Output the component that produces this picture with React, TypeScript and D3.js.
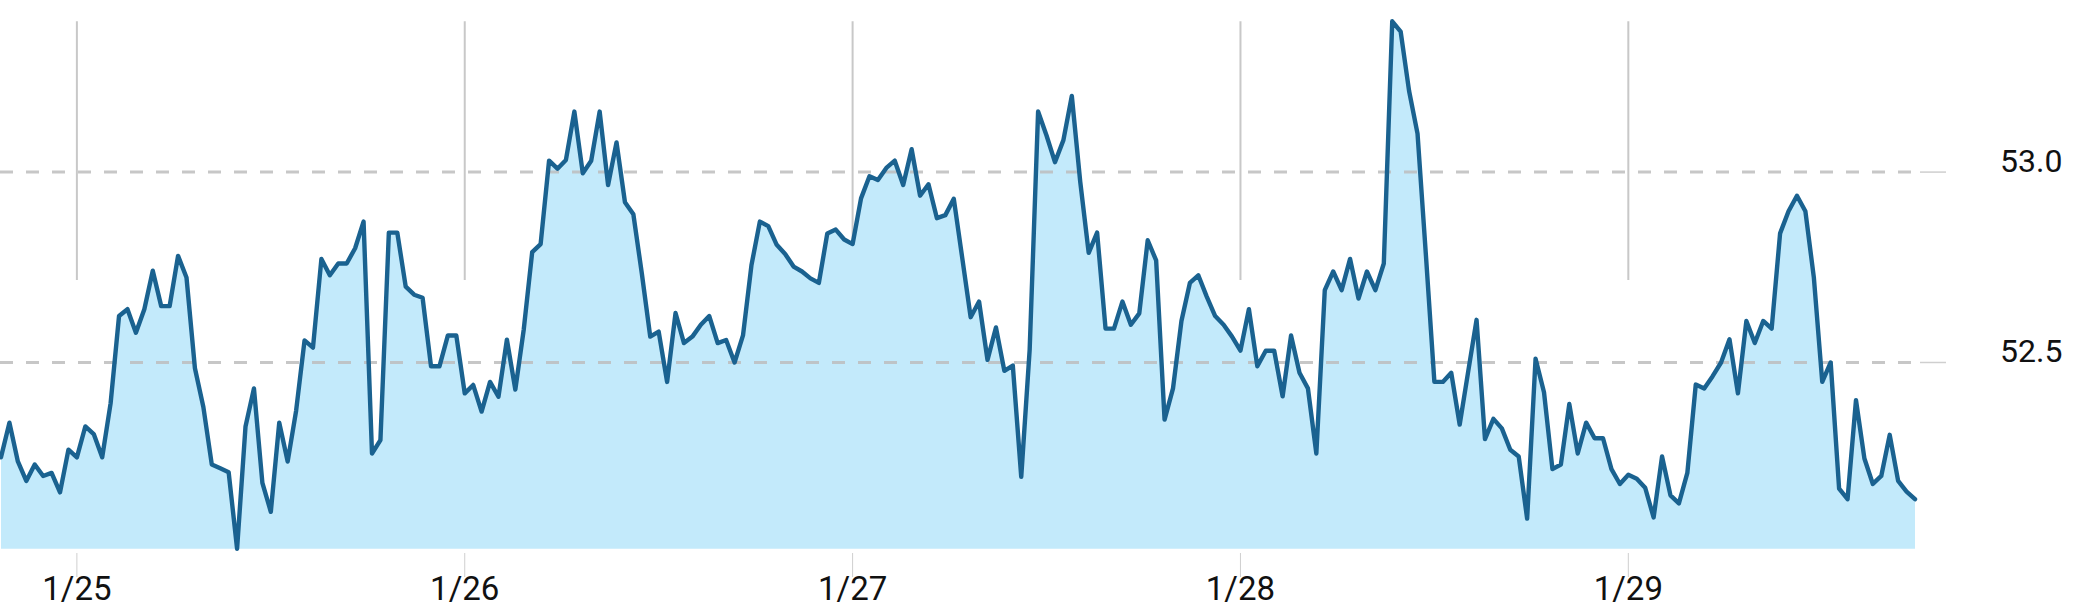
import React from "react";
import * as d3 from "d3";

// Price values (30-minute bars, 46 per trading day)
const prices: number[] = [
  52.251, 52.342, 52.240, 52.189, 52.232, 52.202, 52.210, 52.159, 52.271, 52.251,
  52.332, 52.312, 52.251, 52.393, 52.622, 52.640, 52.578, 52.640, 52.741, 52.648,
  52.648, 52.780, 52.723, 52.485, 52.383, 52.232, 52.222, 52.212, 52.011, 52.332,
  52.432, 52.184, 52.108, 52.342, 52.240, 52.373, 52.558, 52.539, 52.772, 52.729,
  52.760, 52.760, 52.800, 52.870, 52.261, 52.296, 52.841, 52.841, 52.699, 52.678,
  52.670, 52.490, 52.490, 52.571, 52.571, 52.419, 52.441, 52.371, 52.449, 52.410,
  52.560, 52.429, 52.587, 52.790, 52.811, 53.030, 53.009, 53.032, 53.159, 52.997,
  53.030, 53.159, 52.966, 53.078, 52.921, 52.889, 52.734, 52.568, 52.581, 52.449,
  52.630, 52.551, 52.568, 52.599, 52.622, 52.551, 52.559, 52.500, 52.571, 52.755,
  52.870, 52.858, 52.809, 52.785, 52.752, 52.739, 52.721, 52.709, 52.839, 52.849,
  52.823, 52.811, 52.931, 52.989, 52.979, 53.011, 53.030, 52.966, 53.060, 52.938,
  52.968, 52.879, 52.887, 52.930, 52.775, 52.619, 52.660, 52.507, 52.592, 52.478,
  52.492, 52.200, 52.534, 53.159, 53.096, 53.026, 53.084, 53.200, 52.974, 52.788,
  52.841, 52.589, 52.589, 52.660, 52.599, 52.629, 52.821, 52.768, 52.350, 52.432,
  52.609, 52.709, 52.729, 52.673, 52.622, 52.599, 52.568, 52.531, 52.640, 52.490,
  52.531, 52.531, 52.411, 52.571, 52.473, 52.432, 52.261, 52.690, 52.739, 52.690,
  52.772, 52.668, 52.739, 52.690, 52.760, 53.396, 53.369, 53.213, 53.101, 52.780,
  52.449, 52.449, 52.473, 52.337, 52.475, 52.612, 52.299, 52.352, 52.327, 52.271,
  52.253, 52.090, 52.510, 52.422, 52.220, 52.232, 52.391, 52.261, 52.342, 52.301,
  52.301, 52.220, 52.181, 52.205, 52.195, 52.171, 52.093, 52.253, 52.151, 52.130,
  52.210, 52.442, 52.432, 52.464, 52.500, 52.561, 52.419, 52.609, 52.551, 52.609,
  52.589, 52.839, 52.897, 52.938, 52.897, 52.724, 52.449, 52.500, 52.169, 52.141,
  52.401, 52.248, 52.181, 52.202, 52.310, 52.189, 52.161, 52.141,
];

// Day labels and the index of the bar where each day starts
const dayLabels: string[] = ["1/25", "1/26", "1/27", "1/28", "1/29"];
const dayStartIndex: number[] = [9, 55, 101, 147, 193];

// Y-axis tick values
const yTicks: number[] = [52.5, 53.0];

const W = 2093;
const H = 608;
const plotLeft = 1;
const plotRight = 1915;
const plotTop = 21.3;
const plotBottom = 548.7;

export default function App() {
  const x = d3
    .scaleLinear()
    .domain([0, prices.length - 1])
    .range([plotLeft, plotRight]);
  const ext = d3.extent(prices) as [number, number];
  const y = d3.scaleLinear().domain(ext).range([plotBottom, plotTop]);

  const area = d3
    .area<number>()
    .x((_, i) => x(i))
    .y0(plotBottom)
    .y1((d) => y(d));
  const line = d3
    .line<number>()
    .x((_, i) => x(i))
    .y((d) => y(d));

  return (
    <svg
      width={W}
      height={H}
      style={{ position: "absolute", left: 0, top: 0, background: "#fff" }}
      fontFamily="Roboto, 'Liberation Sans', Arial, sans-serif"
    >
      {/* vertical day gridlines (upper part) */}
      {dayStartIndex.map((di, k) => (
        <line
          key={"vg" + k}
          x1={x(di)}
          x2={x(di)}
          y1={plotTop}
          y2={280}
          stroke="#c8c8c8"
          strokeWidth={2}
        />
      ))}
      <path d={area(prices) || ""} fill="#c3eafb" />
      {/* horizontal dashed gridlines */}
      {yTicks.map((t, k) => (
        <g key={"hg" + k}>
          <line
            x1={0}
            x2={plotRight}
            y1={y(t)}
            y2={y(t)}
            stroke="#bdbdbd"
            strokeOpacity={0.85}
            strokeWidth={3}
            strokeDasharray="13 13"
          />
          <line
            x1={1920}
            x2={1946}
            y1={y(t)}
            y2={y(t)}
            stroke="#cfcfcf"
            strokeWidth={1.5}
          />
          <text x={2000} y={y(t)} fontSize={32} fill="#111">
            {t.toFixed(1)}
          </text>
        </g>
      ))}
      <path
        d={line(prices) || ""}
        fill="none"
        stroke="#1a6290"
        strokeWidth={4.4}
        strokeLinejoin="round"
        strokeLinecap="round"
      />
      {/* x tick marks and labels */}
      {dayStartIndex.map((di, k) => (
        <g key={"xt" + k}>
          <line
            x1={x(di)}
            x2={x(di)}
            y1={553}
            y2={577}
            stroke="#cfcfcf"
            strokeWidth={1}
          />
          <text
            x={x(di)}
            y={600}
            fontSize={33}
            textAnchor="middle"
            fill="#111"
          >
            {dayLabels[k]}
          </text>
        </g>
      ))}
    </svg>
  );
}
